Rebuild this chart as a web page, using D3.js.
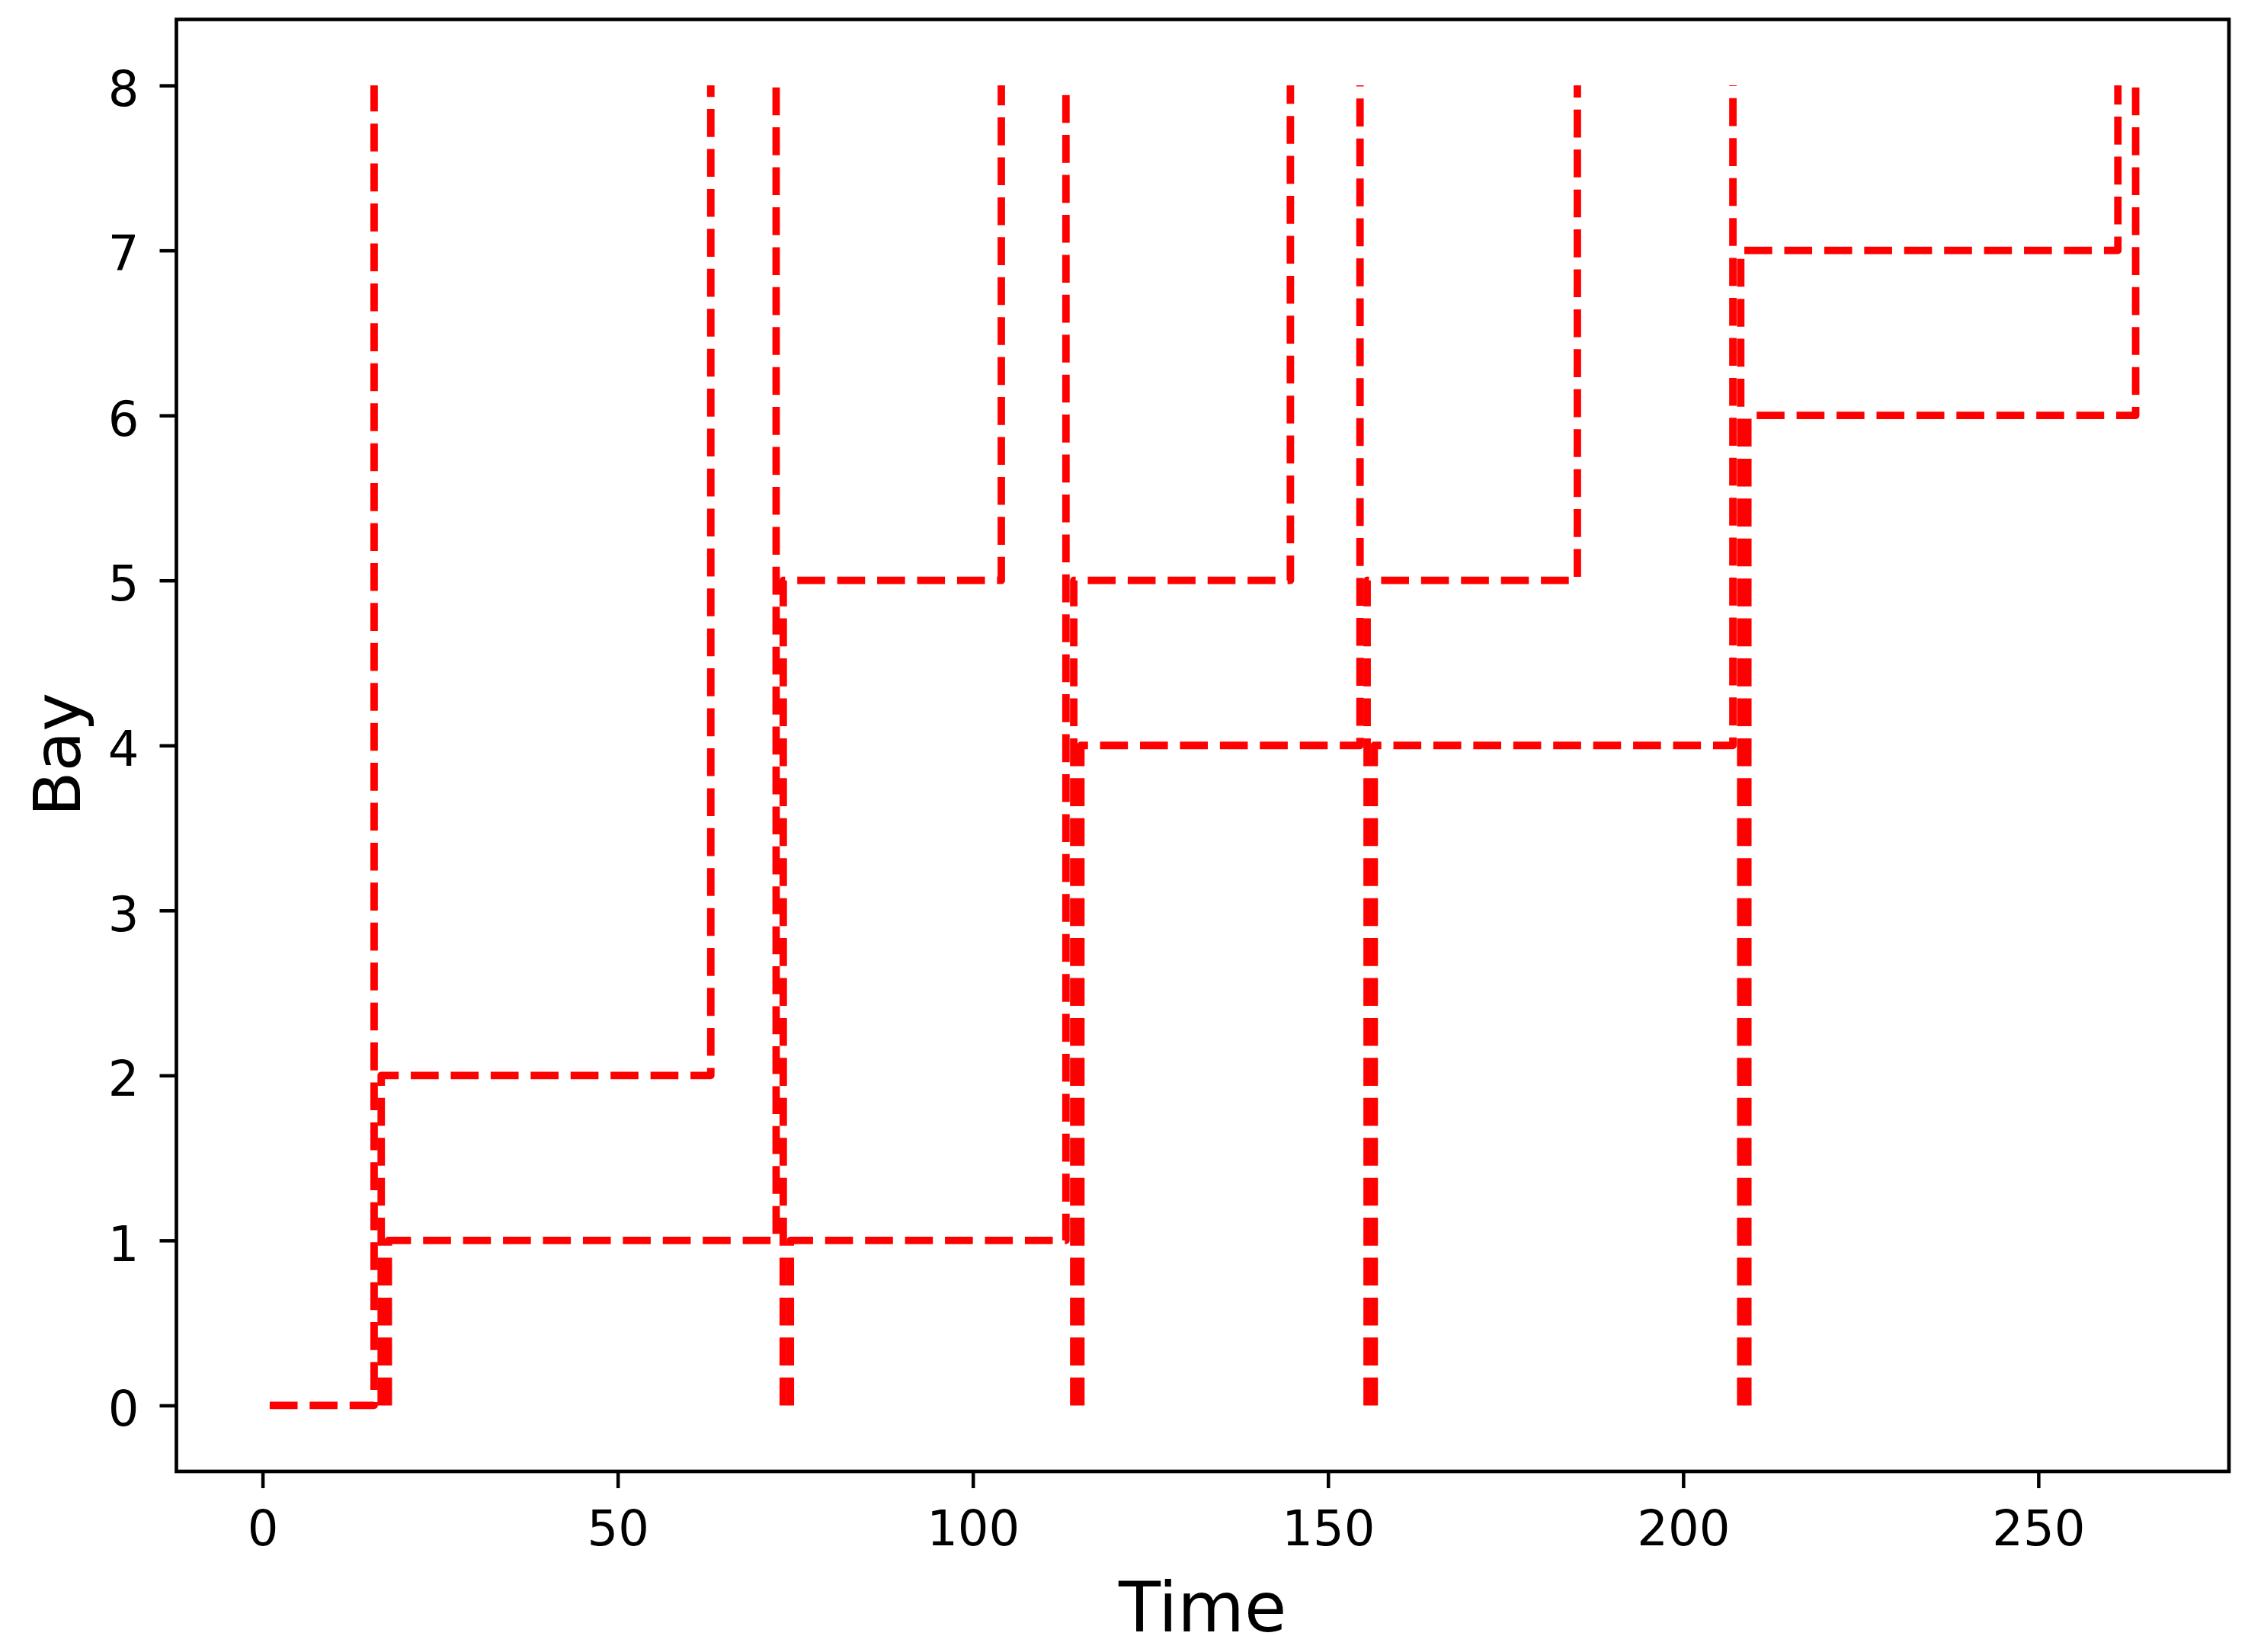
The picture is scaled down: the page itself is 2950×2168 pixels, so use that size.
<!DOCTYPE html>
<html>
<head>
<meta charset="utf-8">
<script src="https://cdn.jsdelivr.net/npm/d3@7"></script>
<style>
  html, body { margin: 0; padding: 0; background: #ffffff; }
  svg { display: block; }
</style>
</head>
<body>
<svg id="chart" width="2950" height="2168"></svg>
<script>
// ---- data ----
const startTimes = [1, 16.7, 17.7, 73.3, 74.3, 114.2, 115.2, 155.5, 156.5, 208.1, 209.1];
const bays       = [0, 2, 1, 5, 1, 5, 4, 5, 4, 7, 6];
const endTimes   = [15.7, 63.1, 72.3, 104.0, 113.1, 144.7, 154.5, 185.1, 207.0, 261.2, 263.7];
const baseBay = 0;
const topBay = 8;
const xTickValues = [0, 50, 100, 150, 200, 250];
const yTickValues = [0, 1, 2, 3, 4, 5, 6, 7, 8];
const xLabel = "Time";
const yLabel = "Bay";

(function () {
  // ---- layout ----
  const W = 2950, H = 2168;
  const pLeft = 231.5, pRight = 2925, pTop = 25.5, pBottom = 1931;
  const font = "DejaVu Sans";

  const svg = d3.select("#chart");
  svg.append("rect").attr("width", W).attr("height", H).attr("fill", "#fff");

  // matplotlib-like 5% margins
  const xmin = d3.min(startTimes), xmax = d3.max(endTimes);
  const xpad = (xmax - xmin) * 0.05;
  const ymin = baseBay, ymax = topBay;
  const ypad = (ymax - ymin) * 0.05;

  const x = d3.scaleLinear().domain([xmin - xpad, xmax + xpad]).range([pLeft, pRight]);
  const y = d3.scaleLinear().domain([ymin - ypad, ymax + ypad]).range([pBottom, pTop]);

  svg.append("clipPath").attr("id", "clip")
    .append("rect").attr("x", pLeft).attr("y", pTop)
    .attr("width", pRight - pLeft).attr("height", pBottom - pTop);

  const series = startTimes.map((s, i) => [
    [s, baseBay], [s, bays[i]], [endTimes[i], bays[i]], [endTimes[i], topBay]
  ]);

  const line = d3.line().x(d => x(d[0])).y(d => y(d[1]));

  svg.append("g").attr("clip-path", "url(#clip)")
    .selectAll("path").data(series).join("path")
    .attr("d", line)
    .attr("fill", "none")
    .attr("stroke", "#ff0000")
    .attr("stroke-width", 9.8)
    .attr("stroke-dasharray", "36.6,15.83")
    .attr("stroke-linecap", "butt")
    .attr("stroke-linejoin", "round");

  const xAxis = d3.axisBottom(x).tickValues(xTickValues).tickFormat(d3.format("d"))
    .tickSizeInner(22).tickSizeOuter(0).tickPadding(29.6);
  const yAxis = d3.axisLeft(y).tickValues(yTickValues).tickFormat(d3.format("d"))
    .tickSizeInner(22).tickSizeOuter(0).tickPadding(27);

  const gx = svg.append("g").attr("transform", `translate(0,${pBottom})`).call(xAxis);
  const gy = svg.append("g").attr("transform", `translate(${pLeft},0)`).call(yAxis);

  [gx, gy].forEach(g => {
    g.select(".domain").remove();
    g.selectAll(".tick line").attr("stroke", "#000").attr("stroke-width", 4.5);
    g.selectAll(".tick text").attr("fill", "#000")
      .style("font-family", font).style("font-size", "64px");
  });
  gy.selectAll(".tick text").attr("dy", "0.41em");

  svg.append("rect")
    .attr("x", pLeft).attr("y", pTop)
    .attr("width", pRight - pLeft).attr("height", pBottom - pTop)
    .attr("fill", "none").attr("stroke", "#000").attr("stroke-width", 4.7);

  svg.append("text")
    .attr("x", (pLeft + pRight) / 2).attr("y", 2141)
    .attr("text-anchor", "middle")
    .style("font-family", font).style("font-size", "90px")
    .attr("fill", "#000")
    .text(xLabel);

  svg.append("text")
    .attr("transform", `translate(105,${(pTop + pBottom) / 2 + 12}) rotate(-90)`)
    .attr("text-anchor", "middle")
    .style("font-family", font).style("font-size", "86px")
    .attr("fill", "#000")
    .text(yLabel);
})();
</script>
</body>
</html>
